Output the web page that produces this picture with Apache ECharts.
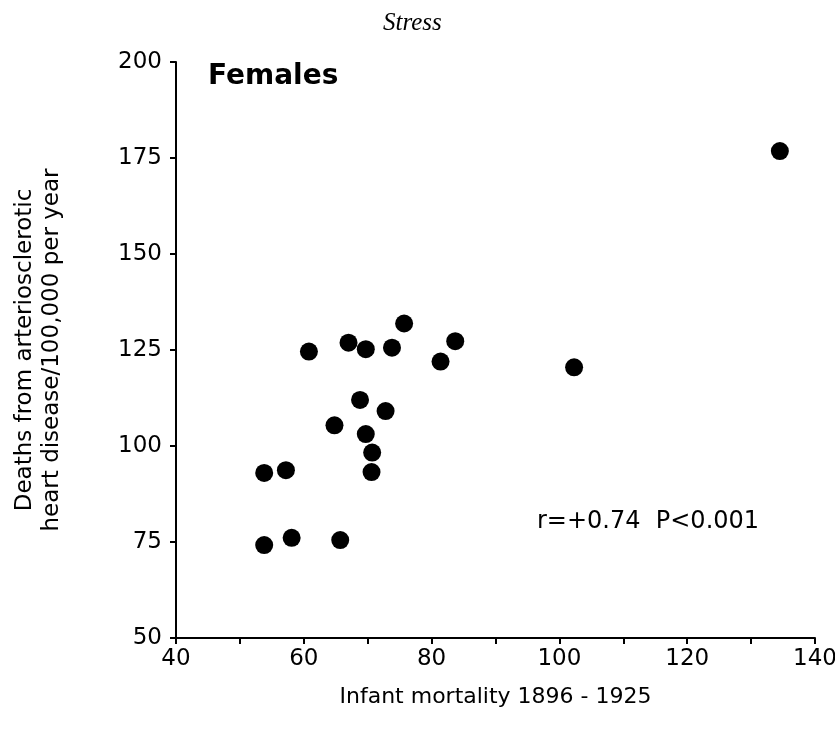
<!DOCTYPE html>
<html>
<head>
<meta charset="utf-8">
<script src="https://cdn.jsdelivr.net/npm/echarts@6/dist/echarts.min.js"></script>
<style>
  html, body { margin: 0; padding: 0; background: #fff; }
  #chart { width: 835px; height: 729px; }
</style>
</head>
<body>
<div id="chart"></div>
<script>
// infant mortality 1896-1925 (x) vs deaths per 100,000 per year (y), females
const infantMortality = [60.8, 67.0, 69.7, 73.8, 75.7, 68.8, 72.8, 64.8, 69.7, 70.7,
                         70.6, 53.8, 57.2, 53.8, 58.1, 65.7, 81.4, 83.7, 102.3, 134.5];
const heartDeaths     = [124.6, 126.9, 125.2, 125.6, 131.9, 112.0, 109.1, 105.4, 103.1, 98.3,
                         93.2, 93.0, 93.7, 74.2, 76.1, 75.5, 122.0, 127.3, 120.5, 176.8];
const xTicks = [40, 60, 80, 100, 120, 140];
const yTicks = [50, 75, 100, 125, 150, 175, 200];

const points = infantMortality.map((x, i) => [x, heartDeaths[i]]);
const font = '"DejaVu Sans", Verdana, sans-serif';
const ink = '#000';

const chart = echarts.init(document.getElementById('chart'), null, { renderer: 'canvas' });
chart.setOption({
  animation: false,
  backgroundColor: '#fff',
  title: {
    text: 'Stress',
    left: 378, top: 6,
    textStyle: { fontFamily: '"Liberation Serif", "DejaVu Serif", serif', fontStyle: 'italic',
                 fontWeight: 'normal', fontSize: 25, color: ink },
  },
  grid: { left: 176, right: 20, top: 62, bottom: 91, outerBoundsMode: 'none', containLabel: false },
  xAxis: {
    type: 'value',
    min: xTicks[0], max: xTicks[xTicks.length - 1], interval: 10,
    name: 'Infant mortality 1896 - 1925',
    nameLocation: 'middle', nameGap: 48,
    nameTextStyle: { fontFamily: font, fontSize: 22, color: ink },
    axisLine: { lineStyle: { color: ink, width: 2 } },
    axisTick: { show: true, length: 6, lineStyle: { color: ink, width: 2 } },
    axisLabel: {
      fontFamily: font, fontSize: 23, color: ink, margin: 10,
      formatter: v => xTicks.includes(v) ? String(v) : '',
    },
    splitLine: { show: false },
  },
  yAxis: {
    type: 'value',
    min: yTicks[0], max: yTicks[yTicks.length - 1], interval: 25,
    name: 'Deaths from arteriosclerotic\nheart disease/100,000 per year',
    nameLocation: 'middle', nameGap: 110, nameRotate: 90,
    nameTextStyle: { fontFamily: font, fontSize: 23, color: ink, lineHeight: 27 },
    axisLine: { show: true, lineStyle: { color: ink, width: 2 } },
    axisTick: { show: true, length: 6, lineStyle: { color: ink, width: 2 } },
    axisLabel: { fontFamily: font, fontSize: 23, color: ink, margin: 14 },
    splitLine: { show: false },
  },
  series: [{
    type: 'scatter',
    data: points,
    symbol: 'circle',
    symbolSize: 18,
    itemStyle: { color: ink, opacity: 1 },
  }],
  graphic: [
    { type: 'text', left: 208, top: 63,
      style: { text: 'Females', font: 'bold 28px ' + font, fill: ink } },
    { type: 'text', left: 537, top: 510,
      style: { text: 'r=+0.74  P<0.001', font: '24px ' + font, fill: ink } },
  ],
});
</script>
</body>
</html>
